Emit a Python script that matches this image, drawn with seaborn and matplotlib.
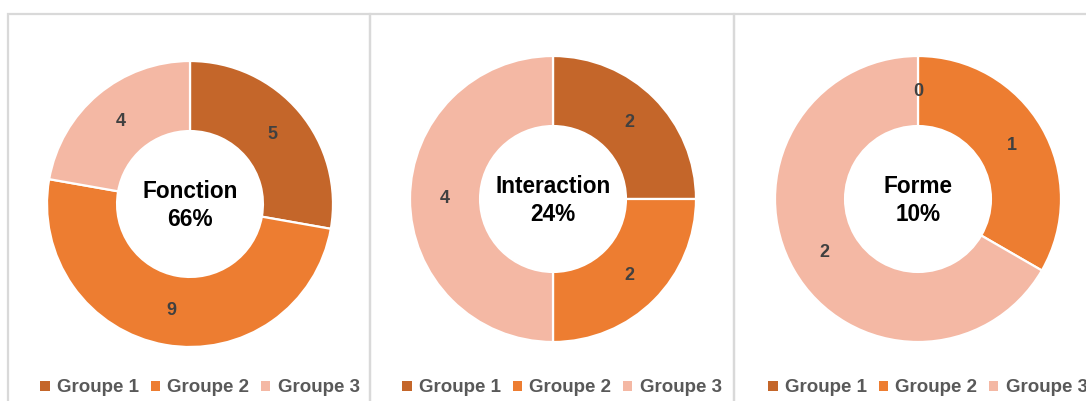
import matplotlib
matplotlib.use("Agg")
import matplotlib.pyplot as plt
from matplotlib.patches import Rectangle, Patch
import seaborn as sns

# Data
groups = ["Groupe 1", "Groupe 2", "Groupe 3"]
themes = ["Fonction", "Interaction", "Forme"]
shares = ["66%", "24%", "10%"]
fonction_vals = [5, 9, 4]
interaction_vals = [2, 2, 4]
forme_vals = [0, 1, 2]
series = [fonction_vals, interaction_vals, forme_vals]

palette = sns.color_palette(["#C4662A", "#ED7D31", "#F4B8A4"])

sns.set_theme(style="white")
plt.rcParams["font.family"] = ["Liberation Sans", "DejaVu Sans"]

W, H = 1086, 401
fig = plt.figure(figsize=(W / 100, H / 100), dpi=100)
fig.patch.set_facecolor("white")


def fx(x):
    return x / W


def fy(y):
    return 1 - y / H


# panel frames
panels = [(8, 370), (370, 734), (734, 1100)]
for x0, x1 in panels:
    fig.patches.append(Rectangle((fx(x0), fy(420)), fx(x1 - x0), (420 - 14) / H,
                                 transform=fig.transFigure, fill=False,
                                 edgecolor="#D9D9D9", linewidth=1.6, zorder=0))

centers = [(190, 204), (553, 199), (918, 199)]
legend_x = [200, 562, 928]
R = 143
hole = 0.51

for vals, name, share, (cx, cy), lx in zip(series, themes, shares, centers, legend_x):
    ax = fig.add_axes([fx(cx - R), fy(cy + R), fx(2 * R), 2 * R / H])
    total = sum(vals)
    wedges, texts, autotexts = ax.pie(
        vals, colors=palette, startangle=90, counterclock=False, radius=1,
        wedgeprops=dict(width=1 - hole, edgecolor="white", linewidth=1.6),
        autopct=lambda p, t=total: f"{round(p * t / 100):d}",
        pctdistance=(1 + hole) / 2,
        textprops=dict(color="#404040", fontsize=13, fontweight="bold"),
    )
    ax.set_xlim(-1, 1)
    ax.set_ylim(-1, 1)
    ax.set_aspect("equal")
    ax.axis("off")
    ax.text(0, -0.01, f"{name}\n{share}", ha="center", va="center",
            fontsize=16.3, fontweight="bold", color="black", linespacing=1.25)

    handles = [Patch(facecolor=c, edgecolor="none") for c in palette]
    fig.legend(handles, groups, loc="center", bbox_to_anchor=(fx(lx), fy(388)),
               ncol=3, frameon=False, handlelength=0.5, handleheight=0.5,
               handletextpad=0.4, columnspacing=0.6, borderpad=0,
               prop=dict(size=13.5, weight="bold"), labelcolor="#595959")

fig.savefig("out.png", dpi=100, facecolor="white")
